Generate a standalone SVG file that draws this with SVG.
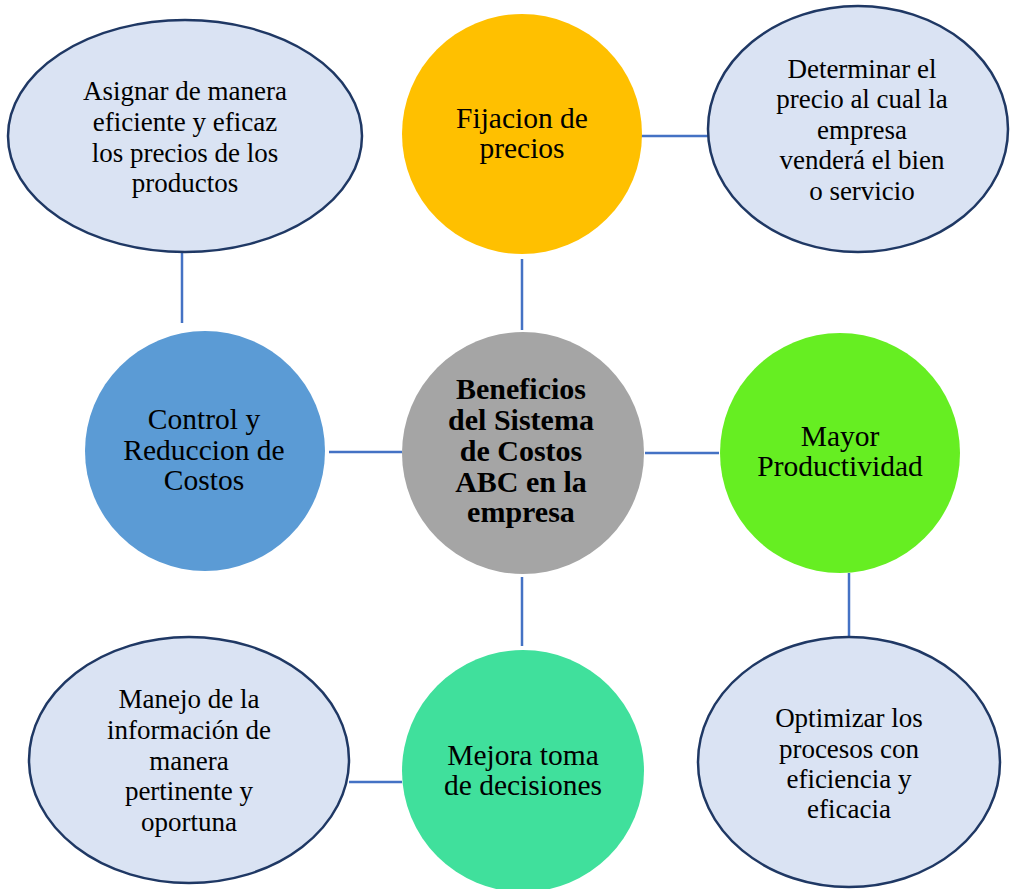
<svg xmlns="http://www.w3.org/2000/svg" width="1011" height="889" viewBox="0 0 1011 889">
<style>
.ell{fill:#DAE3F3;stroke:#1F3864;stroke-width:2.5}
.conn line{stroke:#4472C4;stroke-width:2.5}
text{font-family:"Liberation Serif","Times New Roman",serif;font-size:27px;fill:#000;text-anchor:middle}
.c{font-size:29.5px}
.b{font-weight:bold;font-size:30px}
</style>
<rect width="1011" height="889" fill="#fff"/>
<g id="connectors" class="conn">
<line x1="182" y1="252" x2="182" y2="323"/>
<line x1="522" y1="259" x2="522" y2="330"/>
<line x1="637" y1="136" x2="708" y2="136"/>
<line x1="329" y1="452" x2="402" y2="452"/>
<line x1="645" y1="453" x2="719" y2="453"/>
<line x1="522" y1="577" x2="522" y2="646"/>
<line x1="849" y1="573" x2="849" y2="637"/>
<line x1="349" y1="782" x2="402" y2="782"/>
</g>
<g id="asignar">
<ellipse class="ell" cx="185" cy="136" rx="177" ry="116"/>
<text x="185" y="100">Asignar de manera</text>
<text x="185" y="131">eficiente y eficaz</text>
<text x="185" y="162">los precios de los</text>
<text x="185" y="192">productos</text>
</g>
<g id="fijacion">
<circle cx="522" cy="134" r="120" fill="#FFC000"/>
<text class="c" x="522" y="128">Fijacion de</text>
<text class="c" x="522" y="158">precios</text>
</g>
<g id="determinar">
<ellipse class="ell" cx="858" cy="129" rx="150" ry="123"/>
<text x="862" y="78">Determinar el</text>
<text x="862" y="108">precio al cual la</text>
<text x="862" y="139">empresa</text>
<text x="862" y="169">venderá el bien</text>
<text x="862" y="200">o servicio</text>
</g>
<g id="control">
<circle cx="205" cy="451" r="120" fill="#5B9BD5"/>
<text class="c" x="204" y="429">Control y</text>
<text class="c" x="204" y="460">Reduccion de</text>
<text class="c" x="204" y="490">Costos</text>
</g>
<g id="beneficios">
<circle cx="523" cy="453" r="121" fill="#A5A5A5"/>
<text class="b" x="521" y="399">Beneficios</text>
<text class="b" x="521" y="430">del Sistema</text>
<text class="b" x="521" y="461">de Costos</text>
<text class="b" x="521" y="492">ABC en la</text>
<text class="b" x="521" y="522">empresa</text>
</g>
<g id="productividad">
<circle cx="840" cy="453" r="120" fill="#66EE22"/>
<text class="c" x="840" y="446">Mayor</text>
<text class="c" x="840" y="476">Productividad</text>
</g>
<g id="manejo">
<ellipse class="ell" cx="189" cy="760" rx="160" ry="123"/>
<text x="189" y="708">Manejo de la</text>
<text x="189" y="739">información de</text>
<text x="189" y="770">manera</text>
<text x="189" y="800">pertinente y</text>
<text x="189" y="831">oportuna</text>
</g>
<g id="decisiones">
<circle cx="523" cy="771" r="121" fill="#40E09C"/>
<text class="c" x="523" y="765">Mejora toma</text>
<text class="c" x="523" y="795">de decisiones</text>
</g>
<g id="optimizar">
<ellipse class="ell" cx="849" cy="762" rx="151" ry="125"/>
<text x="849" y="727">Optimizar los</text>
<text x="849" y="758">procesos con</text>
<text x="849" y="788">eficiencia y</text>
<text x="849" y="818">eficacia</text>
</g>
</svg>
